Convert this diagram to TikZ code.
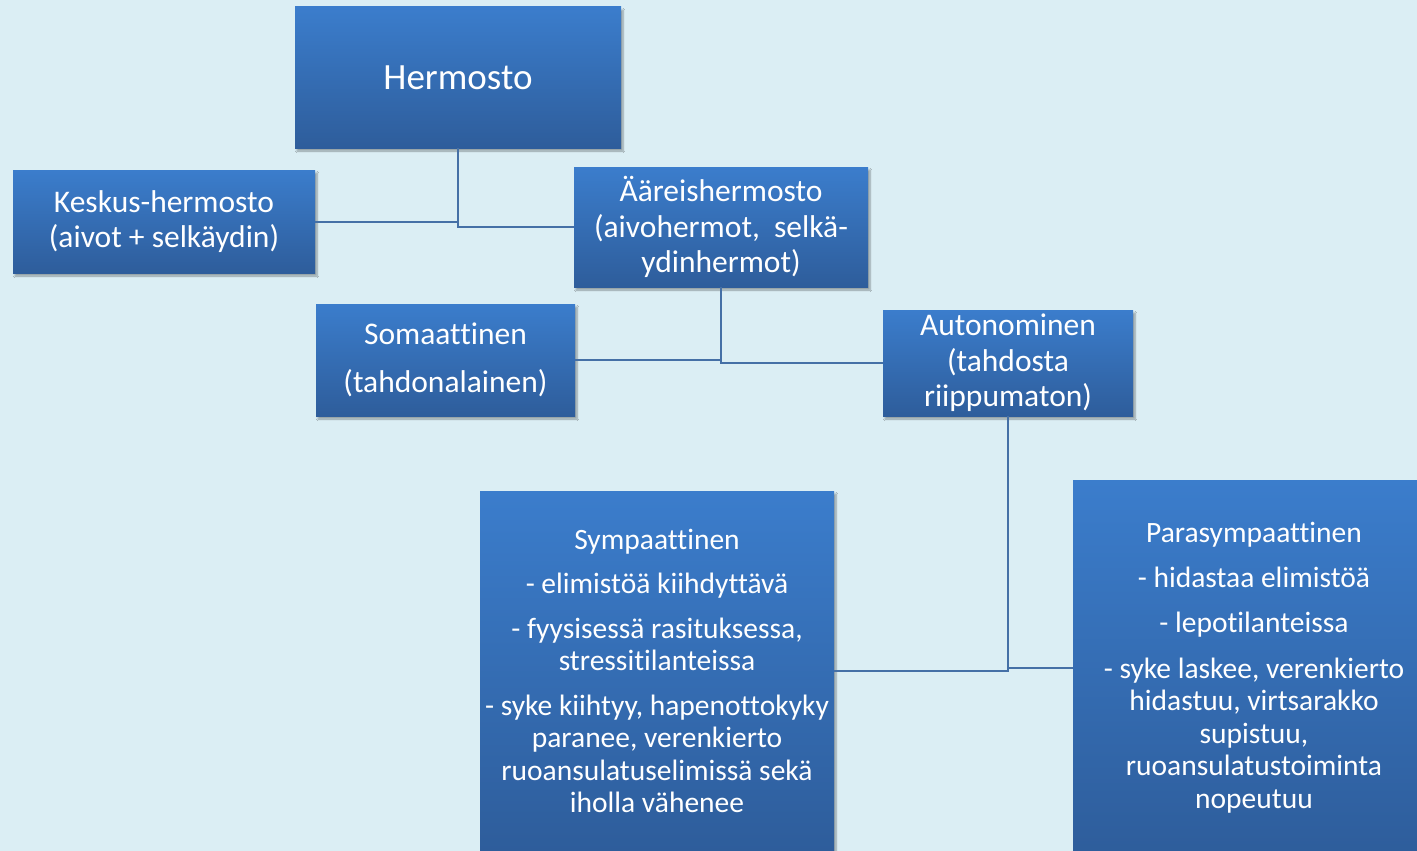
\documentclass[tikz,border=0pt]{standalone}
\usepackage{fontspec}
\setmainfont{Carlito}[Ligatures=NoCommon]
\usetikzlibrary{shadows.blur}
\definecolor{bgblue}{HTML}{DBEEF4}
\definecolor{boxtop}{HTML}{3B7DCC}
\definecolor{boxbottom}{HTML}{2E5D9B}
\definecolor{linkblue}{HTML}{4570A6}

\begin{document}
\begin{tikzpicture}[x=1pt,y=-1pt,
  box/.style={rectangle, top color=boxtop, bottom color=boxbottom, text=white,
    align=center, inner sep=0pt,
    blur shadow={shadow xshift=2pt, shadow yshift=-3pt, shadow opacity=35, shadow blur steps=6}},
  link/.style={draw=linkblue, line width=2pt}]
\def\bigtext{\fontsize{37}{46}\selectfont}
\def\midtext{\fontsize{31.5}{35.5}\selectfont}
\def\smalltext{\fontsize{29.5}{32.5}\selectfont}

\fill[bgblue] (0,0) rectangle (1417,851);
\clip (0,0) rectangle (1417,851);

\node[box, minimum width=326pt, minimum height=141pt, font=\bigtext] (herm) at (458,77.5) {Hermosto};
\node[box, minimum width=302pt, minimum height=103pt, font=\midtext] (kesk) at (164,221.5)
  {Keskus-hermosto\\(aivot + selkäydin)};
\node[box, minimum width=294pt, minimum height=120pt, font=\midtext] (aar) at (721,227)
  {Ääreishermosto\\(aivohermot,~ selkä-\\ydinhermot)};
\node[box, minimum width=259pt, minimum height=112pt, font=\midtext] (soma) at (445.5,360)
  {Somaattinen\\[13pt](tahdonalainen)};
\node[box, minimum width=250pt, minimum height=106pt, font=\midtext] (auto) at (1008,363)
  {Autonominen\\(tahdosta\\riippumaton)};
\node[box, minimum width=354pt, minimum height=360pt, font=\smalltext] (symp) at (657,671)
  {Sympaattinen\\[12pt]- elimistöä kiihdyttävä\\[12pt]- fyysisessä rasituksessa,\\stressitilanteissa\\[12pt]%
   - syke kiihtyy, hapenottokyky\\paranee, verenkierto\\ruoansulatuselimissä sekä\\iholla vähenee};
\node[box, minimum width=362pt, minimum height=375pt, font=\smalltext] (para) at (1254,667.5)
  {Parasympaattinen\\[12pt]- hidastaa elimistöä\\[13pt]- lepotilanteissa\\[13pt]%
   - syke laskee, verenkierto\\hidastuu, virtsarakko\\supistuu,\\ruoansulatustoiminta\\nopeutuu};

\draw[link] (herm.south) |- (kesk.east);
\draw[link] (herm.south) |- (aar.west);
\draw[link] (aar.south) |- (soma.east);
\draw[link] (aar.south) |- (auto.west);
\draw[link] (auto.south) |- (symp.east);
\draw[link] (auto.south) |- (para.west);
\end{tikzpicture}
\end{document}
